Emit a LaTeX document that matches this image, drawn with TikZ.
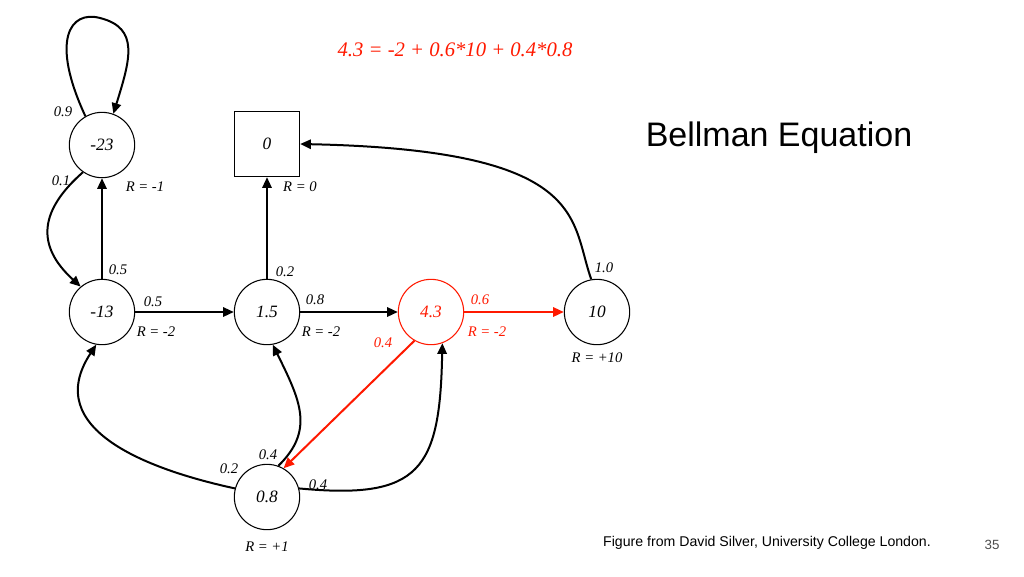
\documentclass[tikz,border=0pt]{standalone}
\usepackage{fontspec}
\setmainfont{Liberation Serif}
\setsansfont{Liberation Sans}
\usetikzlibrary{arrows.meta,positioning}

\tikzset{
  state/.style={draw,circle,thick,minimum size=49pt,inner sep=0pt,font=\itshape\fontsize{13}{15}\selectfont},
  hot/.style={state,draw=red!80!orange,text=red!80!orange},
  term/.style={draw,thick,minimum size=49pt,inner sep=0pt,font=\itshape\fontsize{13}{15}\selectfont},
  lbl/.style={font=\itshape\fontsize{11}{13}\selectfont},
  arc/.style={-{Triangle[length=8pt,width=7pt]},line width=1.5pt},
}

\begin{document}
\begin{tikzpicture}[x=0.75pt,y=-0.75pt]
  \useasboundingbox (0,0) rectangle (1024,576);
  \node[state] (s_a) at (102,145) {-23};
  \node[term] (s_t) at (267,144) {0};
  \node[state] (s_b) at (102,312) {-13};
  \node[state] (s_c) at (267,312) {1.5};
  \node[hot] (s_d) at (431,312) {4.3};
  \node[state] (s_e) at (597,312) {10};
  \node[state] (s_f) at (267,497) {0.8};

  \draw[arc] (s_a.120) .. controls (50,40) and (70,10) .. (100,18) .. controls (140,28) and (130,60) .. (s_a.70);
  \draw[arc] (s_a.235) .. controls (40,210) and (35,245) .. (s_b.130);
  \draw[arc] (s_b) -- (s_a);
  \draw[arc] (s_b) -- (s_c);
  \draw[arc] (s_c) -- (s_t);
  \draw[arc] (s_c) -- (s_d);
  \draw[arc,red!80!orange] (s_d) -- (s_e);
  \draw[arc,red!80!orange] (s_d.240) -- (s_f.60);
  \draw[arc] (s_e.100) .. controls (570,220) and (590,150) .. (s_t.east);
  \draw[arc] (s_f.165) .. controls (150,470) and (40,430) .. (s_b.260);
  \draw[arc] (s_f.70) .. controls (315,430) and (300,400) .. (s_c.280);
  \draw[arc] (s_f.15) .. controls (420,500) and (440,470) .. (s_d.290);

  \node[lbl] (l_a) at (63,112) {0.9};
  \node[lbl] (l_b) at (61,181) {0.1};
  \node[lbl] (l_c) at (145,187) {R = -1};
  \node[lbl] (l_d) at (300,187) {R = 0};
  \node[lbl] (l_e) at (118,270) {0.5};
  \node[lbl] (l_f) at (153,302) {0.5};
  \node[lbl] (l_g) at (156,332) {R = -2};
  \node[lbl] (l_h) at (285,272) {0.2};
  \node[lbl] (l_i) at (315,300) {0.8};
  \node[lbl] (l_j) at (321,332) {R = -2};
  \node[lbl,text=red!80!orange] (l_k) at (480,300) {0.6};
  \node[lbl,text=red!80!orange] (l_l) at (487,332) {R = -2};
  \node[lbl,text=red!80!orange] (l_m) at (383,343) {0.4};
  \node[lbl] (l_n) at (604,268) {1.0};
  \node[lbl] (l_o) at (597,358) {R = +10};
  \node[lbl] (l_p) at (229,469) {0.2};
  \node[lbl] (l_q) at (268,455) {0.4};
  \node[lbl] (l_r) at (318,485) {0.4};
  \node[lbl] (l_s) at (267,547) {R = +1};

  \node[font=\itshape\fontsize{15.5}{18}\selectfont,text=red!80!orange] (eq) at (455,50) {4.3 = -2 + 0.6*10 + 0.4*0.8};
  \node[font=\sffamily\fontsize{25.5}{30}\selectfont] (ttl) at (779,138) {Bellman Equation};
  \node[font=\sffamily\fontsize{10.6}{13}\selectfont] (src) at (767,543) {Figure from David Silver, University College London.};
  \node[font=\sffamily\fontsize{10}{12}\selectfont,text=black!70] (pg) at (992,545) {35};
\end{tikzpicture}
\end{document}
